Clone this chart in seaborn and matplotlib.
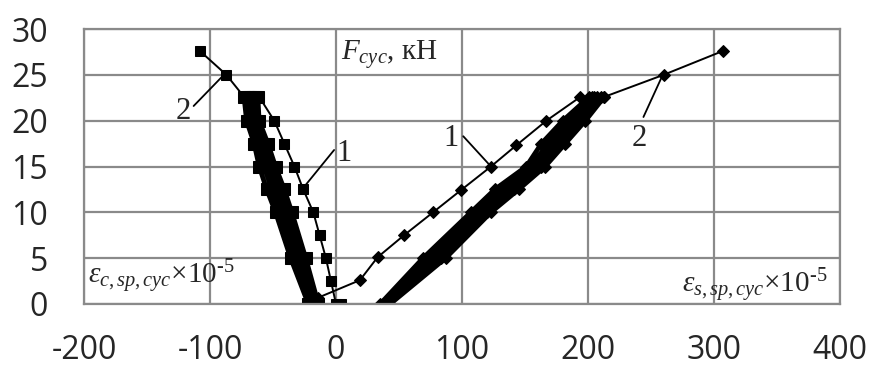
import pandas as pd
import matplotlib.pyplot as plt
import seaborn as sns

# load levels in the repeated cycles, kN
levels_cyc = [0, 5, 10, 12.5, 15, 17.5, 20, 22.6]

# concrete strain (x1e-5), first loading - curve 1
conc_first_x = [4, 0, -4, -8, -13, -18, -26, -33, -41, -49, -61]
conc_first_y = [0, 0, 2.5, 5, 7.5, 10, 12.5, 15, 17.5, 20, 22.6]
# concrete strain at levels_cyc for each repeated cycle
conc_cycles = [
    [-14, -24, -35, -41, -48, -54, -61, -62],
    [-16, -27, -38, -44, -51, -56, -63, -64],
    [-18, -29, -40, -46, -53, -58, -65, -66],
    [-19, -31, -42, -49, -55, -60, -67, -68],
    [-20, -33, -45, -51, -57, -62, -68, -70],
    [-22, -36, -48, -55, -61, -65, -71, -73],
]
# concrete, final loading to failure - curve 2
conc_fail_x = [-87, -108]
conc_fail_y = [25, 27.6]

# steel strain (x1e-5), first loading - curve 1
steel_first_x = [-14, 19, 33, 54, 77, 99, 123, 143, 167, 194]
steel_first_y = [0.7, 2.6, 5.1, 7.5, 10, 12.4, 15, 17.3, 20, 22.6]
steel_cycles = [
    [35, 69, 107, 126, 151, 163, 180, 201],
    [37, 73, 111, 130, 155, 168, 184, 203],
    [38, 76, 114, 134, 158, 171, 188, 205],
    [40, 80, 117, 138, 160, 175, 191, 207],
    [41, 83, 120, 141, 163, 178, 194, 210],
    [43, 87, 123, 145, 166, 182, 198, 213],
]
steel_fail_x = [260, 307]
steel_fail_y = [25, 27.6]


def cycles_frame(cycles, start_top=True):
    xs, ys = [], []
    for i, cyc in enumerate(cycles):
        pts = list(zip(cyc, levels_cyc))
        if (i % 2 == 0) == start_top:
            pts = pts[::-1]  # unloading branch
        xs += [p[0] for p in pts]
        ys += [p[1] for p in pts]
    return pd.DataFrame({"strain": xs, "load": ys})


def line_frame(xs, ys):
    return pd.DataFrame({"strain": xs, "load": ys})


conc_first = line_frame(conc_first_x, conc_first_y)
conc_cyc = cycles_frame(conc_cycles)
conc_fail = line_frame([conc_cycles[-1][-1]] + conc_fail_x, [levels_cyc[-1]] + conc_fail_y)

steel_first = line_frame(steel_first_x, steel_first_y)
steel_cyc = cycles_frame(steel_cycles)
steel_fail = line_frame([steel_cycles[-1][-1]] + steel_fail_x, [levels_cyc[-1]] + steel_fail_y)

sns.set_style("white")
plt.rcParams["font.family"] = ["Open Sans", "DejaVu Sans"]
plt.rcParams["axes.unicode_minus"] = False
plt.rcParams["mathtext.fontset"] = "custom"
plt.rcParams["mathtext.rm"] = "Liberation Serif"
plt.rcParams["mathtext.it"] = "Liberation Serif:italic"

fig = plt.figure(figsize=(8.71, 3.67), dpi=100)
ax = fig.add_axes([84 / 871, 1 - 304 / 367, 756 / 871, 275 / 367])

grid_c = "#8a8a8a"
common = dict(x="strain", y="load", sort=False, estimator=None, color="black",
              markeredgecolor="black", ax=ax)
# concrete (squares)
sns.lineplot(data=conc_cyc, lw=3.4, marker="s", markersize=8, **common)
sns.lineplot(data=conc_first, lw=1.4, marker="s", markersize=7, **common)
sns.lineplot(data=conc_fail, lw=1.4, marker="s", markersize=7, **common)
# steel (diamonds)
sns.lineplot(data=steel_cyc, lw=3.4, marker="D", markersize=6.5, **common)
sns.lineplot(data=steel_first, lw=1.4, marker="D", markersize=6, **common)
sns.lineplot(data=steel_fail, lw=1.4, marker="D", markersize=6, **common)

ax.set_xlim(-200, 400)
ax.set_ylim(0, 30)
ax.set_xticks(range(-200, 401, 100))
ax.set_yticks(range(0, 31, 5))
ax.grid(True, color=grid_c, lw=1.6)
ax.set_axisbelow(True)
for s in ax.spines.values():
    s.set_color(grid_c)
    s.set_linewidth(1.6)
ax.tick_params(axis="x", direction="out", length=9.5, width=1.6, color=grid_c,
               pad=12, labelsize=23)
ax.tick_params(axis="y", length=0, pad=26, labelsize=23)
ax.set_xlabel("")
ax.set_ylabel("")

serif = "Liberation Serif"
ax.text(4, 27.2, r"$F_{cyc}$, кН", family=serif, fontsize=21, va="center", ha="left")
ax.text(-197, 3.0, r"$\varepsilon_{c,sp,cyc}$×10$^{\text{-}5}$", family=serif, fontsize=21,
        va="center", ha="left")
ax.text(390, 2.0, r"$\varepsilon_{s,sp,cyc}$×10$^{\text{-}5}$", family=serif, fontsize=21,
        va="center", ha="right")

# curve labels with leader lines
lab = dict(family=serif, fontsize=22, ha="center", va="center")
ax.plot([-1.5, -24], [16.8, 13], color="black", lw=1.3)
ax.text(6, 16.4, "1", **lab)
ax.plot([-113, -89], [21.6, 25], color="black", lw=1.3)
ax.text(-121, 21, "2", **lab)
ax.plot([101, 123], [18.3, 15], color="black", lw=1.3)
ax.text(91, 18.0, "1", **lab)
ax.plot([244, 258], [20.4, 24.6], color="black", lw=1.3)
ax.text(241, 18.0, "2", **lab)

fig.savefig("out.png", dpi=100)
